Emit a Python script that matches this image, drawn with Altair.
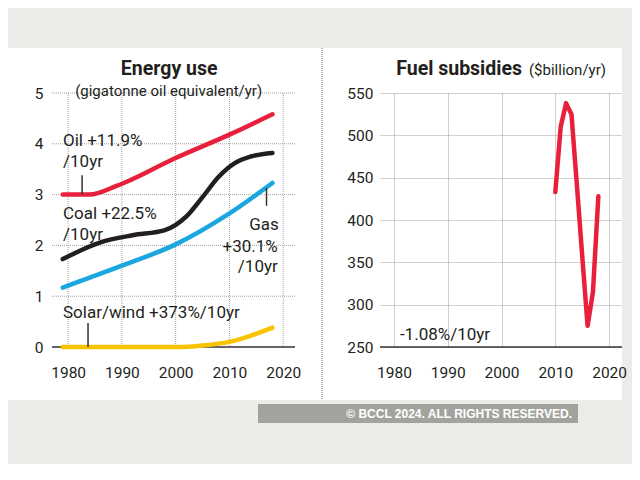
import altair as alt
import pandas as pd

# ---------------- data ----------------
years_oil = [1979, 1984, 1989, 2000, 2010, 2018]
oil = [3.0, 3.0, 3.17, 3.72, 4.18, 4.58]
years_coal = [1979, 1986, 1992, 1998, 2002, 2005, 2008, 2011, 2014, 2018]
coal = [1.73, 2.06, 2.2, 2.3, 2.57, 2.95, 3.35, 3.62, 3.75, 3.82]
years_gas = [1979, 1990, 2000, 2010, 2018]
gas = [1.17, 1.6, 2.02, 2.63, 3.23]
years_solar = [1979, 1990, 2000, 2005, 2010, 2018]
solar = [0.0, 0.0, 0.0, 0.03, 0.1, 0.38]

years_sub = [2010, 2011, 2012, 2013, 2014, 2015, 2016, 2017, 2018]
subsidies = [433, 510, 538, 525, 442, 358, 275, 315, 428]

series_names = ["Oil", "Coal", "Gas", "Solar/wind"]
series_colors = ["#e8203c", "#231f20", "#1ca6df", "#f8c300"]

x_ticks = [1980, 1990, 2000, 2010, 2020]
energy_ticks = [0, 1, 2, 3, 4, 5]
subsidy_ticks = [250, 300, 350, 400, 450, 500, 550]

# annotation texts (data coordinates: year, value)
left_notes_text = ["Oil +11.9%", "/10yr", "Coal +22.5%", "/10yr",
                   "Solar/wind +373%/10yr"]
left_notes_x = [1979.05, 1979.05, 1979.05, 1979.05, 1979.05]
left_notes_y = [3.96, 3.54, 2.52, 2.11, 0.57]

gas_notes_text = ["Gas", "+30.1%", "/10yr"]
gas_notes_x = [2019.2, 2019.0, 2019.0]
gas_notes_y = [2.30, 1.87, 1.47]

leader_x = [1982.6, 2016.9, 1983.7]
leader_y1 = [3.38, 3.13, 0.47]
leader_y2 = [3.0, 2.78, 0.0]

FONT = "Roboto, sans-serif"
GRID = "#a0a0a0"
INK = "#231f20"
TICK_FS = 15.5
NOTE_FS = 17

frames = []
for name, yrs, vals in [("Oil", years_oil, oil), ("Coal", years_coal, coal),
                        ("Gas", years_gas, gas), ("Solar/wind", years_solar, solar)]:
    frames.append(pd.DataFrame({"year": yrs, "value": vals, "series": name}))
energy = pd.concat(frames, ignore_index=True)

sub_df = pd.DataFrame({"year": years_sub, "value": subsidies})

W_L, W_R, H = 243, 242, 254

# ---------------- left panel scales / axes ----------------
sx_l = alt.Scale(domain=[1977, 2022.2], nice=False, zero=False)
sy_l = alt.Scale(domain=[0, 5], nice=False)
ax_xl = alt.Axis(values=x_ticks, format="d", grid=False, domain=False, ticks=False,
                 labelFont=FONT, labelFontSize=TICK_FS, labelColor=INK,
                 labelPadding=18, title=None, zindex=1)
ax_yl = alt.Axis(values=energy_ticks, grid=False, domain=False, ticks=False,
                 labelFont=FONT, labelFontSize=TICK_FS, labelColor=INK,
                 labelPadding=9, title=None, zindex=1)


def XL(f):
    return alt.X(f, scale=sx_l, axis=ax_xl)


def YL(f):
    return alt.Y(f, scale=sy_l, axis=ax_yl)


# decorations (page background, white panel, separator)
one = pd.DataFrame({"a": [0]})
bg = alt.Chart(one).mark_rect(color="#ecebe7").encode(
    x=alt.value(-44), x2=alt.value(580), y=alt.value(-85), y2=alt.value(371))
panel = alt.Chart(one).mark_rect(color="#ffffff").encode(
    x=alt.value(-44), x2=alt.value(570), y=alt.value(-45), y2=alt.value(307))
sep = alt.Chart(one).mark_rule(
    color="#777", strokeDash=[1, 1], strokeWidth=1).encode(
    x=alt.value(270), y=alt.value(-45), y2=alt.value(307))

# gridlines for left panel (drawn over the white panel, under the lines)
grid_v = alt.Chart(pd.DataFrame({"year": x_ticks})).mark_rule(
    color=GRID, strokeDash=[1, 1], strokeWidth=1).encode(x=XL("year:Q"))
grid_h = alt.Chart(pd.DataFrame({"value": energy_ticks[1:]})).mark_rule(
    color=GRID, strokeDash=[1, 1], strokeWidth=1).encode(y=YL("value:Q"))
zero = alt.Chart(pd.DataFrame({"value": [0]})).mark_rule(color="#333", strokeWidth=1.5).encode(
    y=YL("value:Q"))

lines = alt.Chart(energy).mark_line(strokeWidth=4.5, interpolate="monotone", strokeCap="round").encode(
    x=XL("year:Q"), y=YL("value:Q"),
    color=alt.Color("series:N", scale=alt.Scale(domain=series_names, range=series_colors),
                    legend=None),
    detail="series:N")

leaders = alt.Chart(pd.DataFrame({"year": leader_x, "value": leader_y1, "y2": leader_y2})).mark_rule(
    color="#333", strokeWidth=1.5).encode(x=XL("year:Q"), y=YL("value:Q"), y2="y2:Q")

notes_l = alt.Chart(pd.DataFrame({"t": left_notes_text, "year": left_notes_x, "value": left_notes_y})).mark_text(
    align="left", baseline="alphabetic", font=FONT, fontSize=NOTE_FS, color=INK).encode(
    x=XL("year:Q"), y=YL("value:Q"), text="t:N")
notes_g = alt.Chart(pd.DataFrame({"t": gas_notes_text, "year": gas_notes_x, "value": gas_notes_y})).mark_text(
    align="right", baseline="alphabetic", font=FONT, fontSize=NOTE_FS, color=INK).encode(
    x=XL("year:Q"), y=YL("value:Q"), text="t:N")

title_l = alt.Chart(pd.DataFrame({"t": ["Energy use"], "year": [1998.8], "value": [5.35]})).mark_text(
    align="center", baseline="alphabetic", font=FONT, fontSize=19.5, fontWeight="bold",
    color=INK).encode(x=XL("year:Q"), y=YL("value:Q"), text="t:N")
sub_l = alt.Chart(pd.DataFrame({"t": ["(gigatonne oil equivalent/yr)"], "year": [1998.7], "value": [4.94]})).mark_text(
    align="center", baseline="alphabetic", font=FONT, fontSize=15, color=INK).encode(
    x=XL("year:Q"), y=YL("value:Q"), text="t:N")

left = alt.layer(bg, panel, sep, grid_v, grid_h, zero, lines, leaders, notes_l, notes_g,
                 title_l, sub_l).properties(width=W_L, height=H)

# ---------------- right panel ----------------
sx_r = alt.Scale(domain=[1977.4, 2022.4], nice=False, zero=False)
sy_r = alt.Scale(domain=[250, 550], nice=False, zero=False)
ax_xr = alt.Axis(values=x_ticks, format="d", grid=True, gridDash=[1, 1],
                 gridColor=GRID, domain=False, ticks=False,
                 labelFont=FONT, labelFontSize=TICK_FS, labelColor=INK,
                 labelPadding=18, title=None)
ax_yr = alt.Axis(values=subsidy_ticks, grid=True, gridDash=[1, 1],
                 gridColor=GRID, domain=False, ticks=False,
                 labelFont=FONT, labelFontSize=TICK_FS, labelColor=INK,
                 labelPadding=7, title=None)


def XR(f):
    return alt.X(f, scale=sx_r, axis=ax_xr)


def YR(f):
    return alt.Y(f, scale=sy_r, axis=ax_yr)


base_r = alt.Chart(pd.DataFrame({"value": [250]})).mark_rule(color="#333", strokeWidth=1.5).encode(
    y=YR("value:Q"))
sub_line = alt.Chart(sub_df).mark_line(color="#e8203c", strokeWidth=4.5, strokeCap="round",
                                       strokeJoin="round").encode(x=XR("year:Q"), y=YR("value:Q"))

note_r = alt.Chart(pd.DataFrame({"t": ["-1.08%/10yr"], "year": [1981.1], "value": [258.3]})).mark_text(
    align="left", baseline="alphabetic", font=FONT, fontSize=NOTE_FS, color=INK).encode(
    x=XR("year:Q"), y=YR("value:Q"), text="t:N")
title_r = alt.Chart(pd.DataFrame({"t": ["Fuel subsidies"], "year": [2003.8], "value": [571]})).mark_text(
    align="right", baseline="alphabetic", font=FONT, fontSize=19.5, fontWeight="bold",
    color=INK).encode(x=XR("year:Q"), y=YR("value:Q"), text="t:N")
unit_r = alt.Chart(pd.DataFrame({"t": ["($billion/yr)"], "year": [2005.1], "value": [571]})).mark_text(
    align="left", baseline="alphabetic", font=FONT, fontSize=15, color=INK).encode(
    x=XR("year:Q"), y=YR("value:Q"), text="t:N")

wm_box = alt.Chart(one).mark_rect(color="#a3a39e").encode(
    x=alt.value(-122), x2=alt.value(198), y=alt.value(311), y2=alt.value(330))
wm_text = alt.Chart(pd.DataFrame({"t": ["© BCCL 2024. ALL RIGHTS RESERVED."]})).mark_text(
    align="right", baseline="middle", font="Liberation Sans, Arial, sans-serif", fontSize=12,
    fontWeight="bold", color="#ffffff").encode(
    x=alt.value(192), y=alt.value(320.5), text="t:N")

right = alt.layer(base_r, sub_line, note_r, title_r, unit_r, wm_box, wm_text).properties(
    width=W_R, height=H)

chart = alt.hconcat(left, right, spacing=85, bounds="flush").properties(
    padding=0, background="#ecebe7").configure_view(stroke=None)

chart.save("out.html", embed_options={"renderer": "svg", "actions": False})
